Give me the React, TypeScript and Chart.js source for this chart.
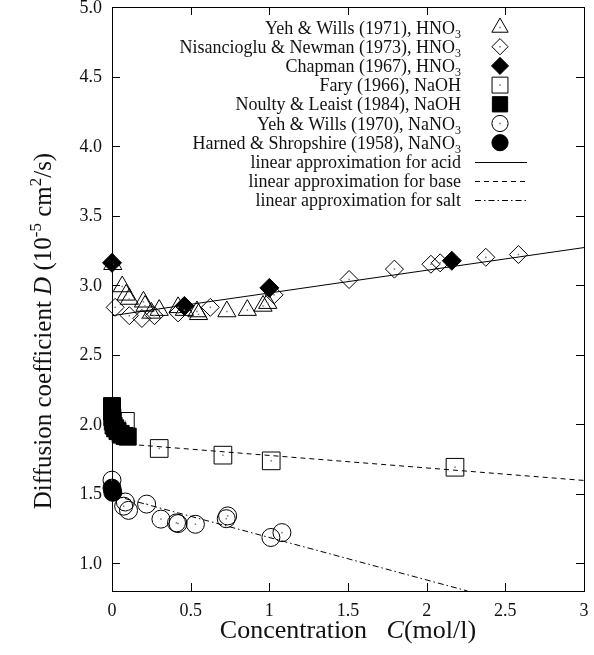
import React, { useEffect, useRef } from 'react';
import { Chart, registerables } from 'chart.js';

Chart.register(...registerables);

const FONT = '"Liberation Serif", "Times New Roman", serif';

// ---- axis ticks ----
const xTicks = [0, 0.5, 1, 1.5, 2, 2.5, 3];
const yTicks = [1.0, 1.5, 2.0, 2.5, 3.0, 3.5, 4.0, 4.5, 5.0];

// ---- data: concentration C (mol/l) and diffusion coefficient D ----
const yehWills1971C = [0.005, 0.065, 0.09, 0.11, 0.2, 0.21, 0.25, 0.3, 0.42, 0.46, 0.54, 0.55, 0.73, 0.86, 0.96, 0.99];
const yehWills1971D = [3.15, 2.99, 2.93, 2.9, 2.88, 2.85, 2.8, 2.82, 2.84, 2.82, 2.81, 2.79, 2.81, 2.82, 2.85, 2.87];

const nisanciogluC = [0.02, 0.11, 0.19, 0.27, 0.42, 0.625, 1.03, 1.507, 1.795, 2.027, 2.086, 2.376, 2.583];
const nisanciogluD = [2.84, 2.78, 2.76, 2.78, 2.8, 2.84, 2.93, 3.04, 3.115, 3.15, 3.16, 3.2, 3.22];

const chapmanC = [0, 0.46, 1.0, 2.16];
const chapmanD = [3.16, 2.85, 2.98, 3.175];

const faryC = [0.085, 0.3, 0.705, 1.012, 2.18];
const faryD = [2.02, 1.825, 1.777, 1.736, 1.69];

const noultyC = [0, 0, 0.002, 0.005, 0.01, 0.02, 0.035, 0.055, 0.08, 0.1];
const noultyD = [2.13, 2.09, 2.05, 2.02, 1.99, 1.97, 1.95, 1.93, 1.915, 1.91];

const yehWills1970C = [0, 0.074, 0.085, 0.105, 0.22, 0.311, 0.41, 0.42, 0.53, 0.726, 0.735, 1.01, 1.08];
const yehWills1970D = [1.597, 1.41, 1.44, 1.38, 1.425, 1.317, 1.29, 1.285, 1.28, 1.32, 1.34, 1.185, 1.22];

const harnedC = [0, 0.005];
const harnedD = [1.54, 1.51];

// linear approximations (end points)
const acidC = [0, 3];
const acidD = [2.78, 3.27];
const baseC = [0, 3];
const baseD = [1.865, 1.595];
const saltC = [0, 2.26];
const saltD = [1.49, 0.8];

// ---- legend labels: [main text, subscript] ----
const legendLabels: [string, string][] = [
  ['Yeh & Wills (1971), HNO', '3'],
  ['Nisancioglu & Newman (1973), HNO', '3'],
  ['Chapman (1967), HNO', '3'],
  ['Fary (1966), NaOH', ''],
  ['Noulty & Leaist (1984), NaOH', ''],
  ['Yeh & Wills (1970), NaNO', '3'],
  ['Harned & Shropshire (1958), NaNO', '3'],
  ['linear approximation for acid', ''],
  ['linear approximation for base', ''],
  ['linear approximation for salt', ''],
];

type Seg = { t: string; k?: 'it' | 'sup' | 'sub' };

function drawRich(ctx: CanvasRenderingContext2D, segs: Seg[], x: number, y: number, size: number, align: 'left' | 'center' | 'right') {
  const fontFor = (s: Seg) => {
    const sz = s.k === 'sup' || s.k === 'sub' ? Math.round(size * 0.68) : size;
    return `${s.k === 'it' ? 'italic ' : ''}${sz}px ${FONT}`;
  };
  let total = 0;
  const widths = segs.map((s) => {
    ctx.font = fontFor(s);
    const w = ctx.measureText(s.t).width;
    total += w;
    return w;
  });
  let cx = align === 'left' ? x : align === 'center' ? x - total / 2 : x - total;
  ctx.textAlign = 'left';
  ctx.textBaseline = 'alphabetic';
  segs.forEach((s, i) => {
    ctx.font = fontFor(s);
    const dy = s.k === 'sup' ? -size * 0.42 : s.k === 'sub' ? size * 0.25 : 0;
    ctx.fillText(s.t, cx, y + dy);
    cx += widths[i];
  });
}

type MStyle = 'triangle' | 'rectRot' | 'rect' | 'circle';

function drawMarker(ctx: CanvasRenderingContext2D, style: MStyle, x: number, y: number, r: number, filled: boolean) {
  ctx.beginPath();
  if (style === 'triangle') {
    for (let k = 0; k < 3; k++) {
      const a = -Math.PI / 2 + (k * 2 * Math.PI) / 3;
      const px = x + Math.cos(a) * r;
      const py = y + Math.sin(a) * r;
      if (k === 0) ctx.moveTo(px, py);
      else ctx.lineTo(px, py);
    }
    ctx.closePath();
  } else if (style === 'rectRot') {
    ctx.moveTo(x, y - r);
    ctx.lineTo(x + r, y);
    ctx.lineTo(x, y + r);
    ctx.lineTo(x - r, y);
    ctx.closePath();
  } else if (style === 'rect') {
    const h = r * Math.SQRT1_2;
    ctx.rect(x - h, y - h, 2 * h, 2 * h);
  } else {
    ctx.arc(x, y, r, 0, Math.PI * 2);
  }
  ctx.lineWidth = 1;
  ctx.strokeStyle = '#000';
  if (filled) {
    ctx.fillStyle = '#000';
    ctx.fill();
  }
  ctx.stroke();
  if (!filled) {
    ctx.fillStyle = '#777';
    ctx.fillRect(x - 0.75, y - 0.75, 1.5, 1.5);
  }
}

const markerDefs: { style: MStyle; r: number; filled: boolean }[] = [
  { style: 'triangle', r: 10.5, filled: false },
  { style: 'rectRot', r: 9, filled: false },
  { style: 'rectRot', r: 9.5, filled: true },
  { style: 'rect', r: 12.5, filled: false },
  { style: 'rect', r: 12, filled: true },
  { style: 'circle', r: 9, filled: false },
  { style: 'circle', r: 9, filled: true },
];
const lineDashes = [[], [5, 4], [6, 3, 1.5, 3]];

const decorPlugin = {
  id: 'decor',
  afterDatasetsDraw(chart: any) {
    const ctx: CanvasRenderingContext2D = chart.ctx;
    ctx.save();
    chart.data.datasets.forEach((ds: any, i: number) => {
      if (!ds.openMarker) return;
      const meta = chart.getDatasetMeta(i);
      ctx.fillStyle = '#777';
      meta.data.forEach((el: any) => ctx.fillRect(el.x - 0.75, el.y - 0.75, 1.5, 1.5));
    });
    ctx.restore();
  },
  afterDraw(chart: any) {
    const ctx: CanvasRenderingContext2D = chart.ctx;
    const { left, right, top, bottom } = chart.chartArea;
    const xs = chart.scales.x;
    const ys = chart.scales.y;
    ctx.save();
    ctx.strokeStyle = '#000';
    ctx.lineWidth = 1;
    ctx.strokeRect(Math.round(left) + 0.5, Math.round(top) + 0.5, Math.round(right - left), Math.round(bottom - top));
    ctx.beginPath();
    const TL = 8;
    xTicks.forEach((v) => {
      const px = Math.round(xs.getPixelForValue(v)) + 0.5;
      ctx.moveTo(px, bottom);
      ctx.lineTo(px, bottom - TL);
      ctx.moveTo(px, top);
      ctx.lineTo(px, top + TL);
    });
    yTicks.forEach((v) => {
      const py = Math.round(ys.getPixelForValue(v)) + 0.5;
      ctx.moveTo(left, py);
      ctx.lineTo(left + TL, py);
      ctx.moveTo(right, py);
      ctx.lineTo(right - TL, py);
    });
    ctx.stroke();

    // axis titles
    ctx.fillStyle = '#111';
    drawRich(ctx, [{ t: 'Concentration   ' }, { t: 'C', k: 'it' }, { t: '(mol/l)' }], (left + right) / 2, 638, 26, 'center');
    ctx.save();
    ctx.translate(51, 331);
    ctx.rotate(-Math.PI / 2);
    drawRich(
      ctx,
      [
        { t: 'Diffusion coefficient ' },
        { t: 'D', k: 'it' },
        { t: ' (10' },
        { t: '-5', k: 'sup' },
        { t: ' cm' },
        { t: '2', k: 'sup' },
        { t: '/s)' },
      ],
      0,
      0,
      25,
      'center'
    );
    ctx.restore();

    // legend
    legendLabels.forEach(([main, sub], i) => {
      const cy = 27.5 + i * 19.2;
      ctx.fillStyle = '#111';
      const segs: Seg[] = [{ t: main }];
      if (sub) segs.push({ t: sub, k: 'sub' });
      drawRich(ctx, segs, 461, cy + 6, 18, 'right');
      if (i < markerDefs.length) {
        const m = markerDefs[i];
        drawMarker(ctx, m.style, 500, cy, m.r * 0.9, m.filled);
      } else {
        ctx.beginPath();
        ctx.setLineDash(lineDashes[i - markerDefs.length]);
        ctx.strokeStyle = '#000';
        ctx.lineWidth = 1;
        ctx.moveTo(475, Math.round(cy) + 0.5);
        ctx.lineTo(527, Math.round(cy) + 0.5);
        ctx.stroke();
        ctx.setLineDash([]);
      }
    });
    ctx.restore();
  },
};

export default function App() {
  const ref = useRef<HTMLCanvasElement>(null);
  useEffect(() => {
    const canvas = ref.current!;
    const toPts = (xs: number[], ys: number[]) => xs.map((x, i) => ({ x, y: ys[i] }));
    const ptDs = (label: string, xs: number[], ys: number[], idx: number) => {
      const m = markerDefs[idx];
      return {
        label,
        data: toPts(xs, ys),
        showLine: false,
        pointStyle: m.style,
        pointRadius: m.r,
        pointHoverRadius: m.r,
        pointBackgroundColor: m.filled ? '#000' : 'rgba(0,0,0,0)',
        pointBorderColor: '#000',
        pointBorderWidth: 1,
        order: 2,
        clip: false,
        openMarker: !m.filled,
      };
    };
    const lineDs = (label: string, xs: number[], ys: number[], dash: number[]) => ({
      label,
      data: toPts(xs, ys),
      showLine: true,
      borderColor: '#000',
      borderWidth: 1,
      borderDash: dash,
      pointRadius: 0,
      pointHoverRadius: 0,
      fill: false,
      order: 1,
    });
    const datasets: any[] = [
      ptDs(legendLabels[0][0], yehWills1971C, yehWills1971D, 0),
      ptDs(legendLabels[1][0], nisanciogluC, nisanciogluD, 1),
      ptDs(legendLabels[2][0], chapmanC, chapmanD, 2),
      ptDs(legendLabels[3][0], faryC, faryD, 3),
      ptDs(legendLabels[4][0], noultyC, noultyD, 4),
      ptDs(legendLabels[5][0], yehWills1970C, yehWills1970D, 5),
      ptDs(legendLabels[6][0], harnedC, harnedD, 6),
      lineDs(legendLabels[7][0], acidC, acidD, lineDashes[0]),
      lineDs(legendLabels[8][0], baseC, baseD, lineDashes[1]),
      lineDs(legendLabels[9][0], saltC, saltD, lineDashes[2]),
    ];
    const tickFont = { family: FONT, size: 18 };
    const chart = new Chart(canvas, {
      type: 'scatter',
      data: { datasets },
      options: {
        animation: false,
        responsive: false,
        devicePixelRatio: 1,
        events: [],
        layout: { padding: { top: 7, right: 10, left: 0, bottom: 0 }, autoPadding: false },
        plugins: { legend: { display: false }, tooltip: { enabled: false } },
        scales: {
          x: {
            type: 'linear',
            min: 0,
            max: 3,
            afterBuildTicks: (s: any) => {
              s.ticks = xTicks.map((v) => ({ value: v }));
            },
            afterFit: (s: any) => {
              s.height = 64;
              s.paddingLeft = 0;
              s.paddingRight = 0;
            },
            grid: { display: false, drawTicks: false },
            border: { display: false },
            ticks: {
              padding: 9,
              color: '#111',
              font: tickFont,
              maxRotation: 0,
              autoSkip: false,
              callback: (v: any) => String(v),
            },
          },
          y: {
            type: 'linear',
            min: 0.8,
            max: 5,
            afterBuildTicks: (s: any) => {
              s.ticks = yTicks.map((v) => ({ value: v }));
            },
            afterFit: (s: any) => {
              s.width = 112;
              s.paddingTop = 0;
              s.paddingBottom = 0;
            },
            grid: { display: false, drawTicks: false },
            border: { display: false },
            ticks: {
              padding: 10,
              color: '#111',
              font: tickFont,
              autoSkip: false,
              labelOffset: 1,
              callback: (v: any) => Number(v).toFixed(1),
            },
          },
        },
      } as any,
      plugins: [decorPlugin],
    });
    return () => chart.destroy();
  }, []);
  return (
    <div style={{ position: 'absolute', left: 0, top: 0, width: 594, height: 655, background: '#fff' }}>
      <canvas ref={ref} width={594} height={655} style={{ display: 'block' }} />
    </div>
  );
}
